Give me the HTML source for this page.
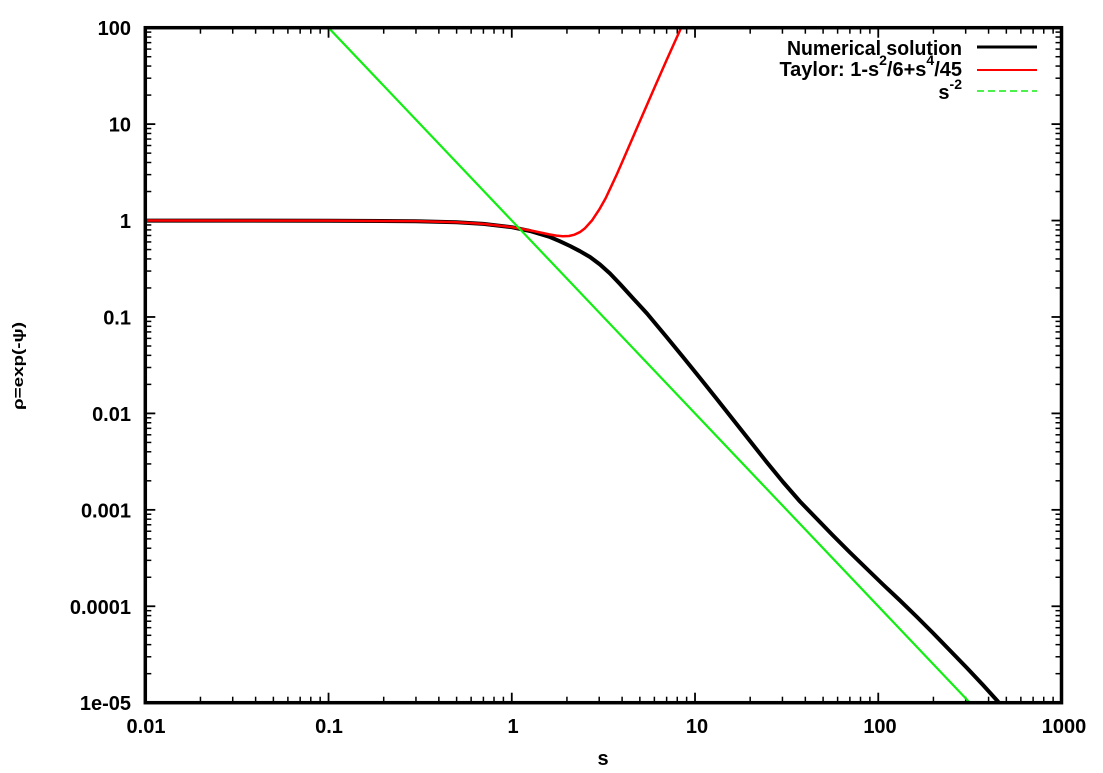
<!DOCTYPE html>
<html><head><meta charset="utf-8"><style>
html,body{margin:0;padding:0;background:#fff;}
svg{display:block;}
text{font-family:"Liberation Sans",Arial,sans-serif;font-weight:bold;fill:#000;}
</style></head><body>
<svg width="1103" height="773" viewBox="0 0 1103 773" xmlns="http://www.w3.org/2000/svg">
<defs>
<clipPath id="pc"><rect x="145.3" y="27.7" width="916.2" height="675"/></clipPath>
<g id="xm" stroke="#000" stroke-width="1.5">
<line x1="55.16" y1="702.7" x2="55.16" y2="696.7"/><line x1="87.42" y1="702.7" x2="87.42" y2="696.7"/><line x1="110.32" y1="702.7" x2="110.32" y2="696.7"/><line x1="128.08" y1="702.7" x2="128.08" y2="696.7"/><line x1="142.59" y1="702.7" x2="142.59" y2="696.7"/><line x1="154.86" y1="702.7" x2="154.86" y2="696.7"/><line x1="165.48" y1="702.7" x2="165.48" y2="696.7"/><line x1="174.86" y1="702.7" x2="174.86" y2="696.7"/>
<line x1="55.16" y1="27.7" x2="55.16" y2="33.7"/><line x1="87.42" y1="27.7" x2="87.42" y2="33.7"/><line x1="110.32" y1="27.7" x2="110.32" y2="33.7"/><line x1="128.08" y1="27.7" x2="128.08" y2="33.7"/><line x1="142.59" y1="27.7" x2="142.59" y2="33.7"/><line x1="154.86" y1="27.7" x2="154.86" y2="33.7"/><line x1="165.48" y1="27.7" x2="165.48" y2="33.7"/><line x1="174.86" y1="27.7" x2="174.86" y2="33.7"/>
</g>
<g id="ym" stroke="#000" stroke-width="1.5">
<line x1="145.3" y1="-29.03" x2="151.3" y2="-29.03"/><line x1="145.3" y1="-45.92" x2="151.3" y2="-45.92"/><line x1="145.3" y1="-58.06" x2="151.3" y2="-58.06"/><line x1="145.3" y1="-67.40" x2="151.3" y2="-67.40"/><line x1="145.3" y1="-75.04" x2="151.3" y2="-75.04"/><line x1="145.3" y1="-81.49" x2="151.3" y2="-81.49"/><line x1="145.3" y1="-87.09" x2="151.3" y2="-87.09"/><line x1="145.3" y1="-92.02" x2="151.3" y2="-92.02"/>
<line x1="1061.5" y1="-29.03" x2="1055.5" y2="-29.03"/><line x1="1061.5" y1="-45.92" x2="1055.5" y2="-45.92"/><line x1="1061.5" y1="-58.06" x2="1055.5" y2="-58.06"/><line x1="1061.5" y1="-67.40" x2="1055.5" y2="-67.40"/><line x1="1061.5" y1="-75.04" x2="1055.5" y2="-75.04"/><line x1="1061.5" y1="-81.49" x2="1055.5" y2="-81.49"/><line x1="1061.5" y1="-87.09" x2="1055.5" y2="-87.09"/><line x1="1061.5" y1="-92.02" x2="1055.5" y2="-92.02"/>
</g>
</defs>
<rect x="0" y="0" width="1103" height="773" fill="#fff"/>

<!-- minor ticks -->
<use href="#xm" transform="translate(145.3,0)"/>
<use href="#xm" transform="translate(328.54,0)"/>
<use href="#xm" transform="translate(511.78,0)"/>
<use href="#xm" transform="translate(695.02,0)"/>
<use href="#xm" transform="translate(878.26,0)"/>
<use href="#ym" transform="translate(0,702.7)"/>
<use href="#ym" transform="translate(0,606.27)"/>
<use href="#ym" transform="translate(0,509.84)"/>
<use href="#ym" transform="translate(0,413.41)"/>
<use href="#ym" transform="translate(0,316.98)"/>
<use href="#ym" transform="translate(0,220.55)"/>
<use href="#ym" transform="translate(0,124.12)"/>

<!-- major ticks -->
<g stroke="#000" stroke-width="1.8">
<line x1="328.54" y1="702.7" x2="328.54" y2="692.7"/><line x1="511.78" y1="702.7" x2="511.78" y2="692.7"/><line x1="695.02" y1="702.7" x2="695.02" y2="692.7"/><line x1="878.26" y1="702.7" x2="878.26" y2="692.7"/>
<line x1="328.54" y1="27.7" x2="328.54" y2="37.7"/><line x1="511.78" y1="27.7" x2="511.78" y2="37.7"/><line x1="695.02" y1="27.7" x2="695.02" y2="37.7"/><line x1="878.26" y1="27.7" x2="878.26" y2="37.7"/>
<line x1="145.3" y1="606.27" x2="155.3" y2="606.27"/><line x1="145.3" y1="509.84" x2="155.3" y2="509.84"/><line x1="145.3" y1="413.41" x2="155.3" y2="413.41"/><line x1="145.3" y1="316.98" x2="155.3" y2="316.98"/><line x1="145.3" y1="220.55" x2="155.3" y2="220.55"/><line x1="145.3" y1="124.12" x2="155.3" y2="124.12"/>
<line x1="1061.5" y1="606.27" x2="1051.5" y2="606.27"/><line x1="1061.5" y1="509.84" x2="1051.5" y2="509.84"/><line x1="1061.5" y1="413.41" x2="1051.5" y2="413.41"/><line x1="1061.5" y1="316.98" x2="1051.5" y2="316.98"/><line x1="1061.5" y1="220.55" x2="1051.5" y2="220.55"/><line x1="1061.5" y1="124.12" x2="1051.5" y2="124.12"/>
</g>

<!-- curves -->
<g clip-path="url(#pc)" fill="none" stroke-linejoin="round" stroke-linecap="round">
<polyline stroke="#000" stroke-width="4" points="145.3,220.6 328.5,220.7 415.9,221.2 456.6,222.3 483.4,223.9 511.8,227.2 530,231 550,237 560,241.3 570,246 580,251.2 590,257 600,264.5 610,273.5 620,284 630,295 647,313.5 667,337.5 683,357 700,378 716,398 733,419.5 750,441 767,462.5 783,482 800,501.5 817,519 833,535.5 850,552.5 867,569 883,584.5 900,600.5 917,617 933,633 950,650.5 967,668 983,685 997.5,701 1000,704"/>
<g transform="matrix(183.24 0 0 -96.43 511.78 220.56)">
<polyline vector-effect="non-scaling-stroke" stroke="#ff0000" stroke-width="2.5" points="-2,0 -1,-0.000725 -0.5229,-0.00649 -0.30103,-0.01785 -0.1549,-0.03448 0,-0.06775 0.11394,-0.1069 0.20412,-0.1433 0.24304,-0.15614 0.27875,-0.16245 0.31175,-0.15994 0.34242,-0.14635 0.37107,-0.12063 0.39794,-0.08282 0.43933,0.00454 0.47712,0.11394 0.51188,0.23 0.54407,0.36042 0.57403,0.483 0.60206,0.60446 0.65321,0.8285 0.69897,1.03031 0.77815,1.37658 0.8451,1.66454 0.90309,1.9104 0.92942,2.0211"/>
<polyline vector-effect="non-scaling-stroke" stroke="#11ee11" stroke-width="2.2" points="-1,2 2.5,-5"/>
</g>
</g>

<!-- frame -->
<rect x="145.3" y="27.7" width="916.2" height="675" fill="none" stroke="#000" stroke-width="3.5"/>

<!-- y tick labels -->
<g font-size="20" text-anchor="end">
<text x="131" y="35">100</text>
<text x="131" y="131.5">10</text>
<text x="131" y="228">1</text>
<text x="131" y="324.5">0.1</text>
<text x="131" y="421">0.01</text>
<text x="131" y="517.5">0.001</text>
<text x="131" y="614">0.0001</text>
<text x="131" y="710">1e-05</text>
</g>
<!-- x tick labels -->
<g font-size="20" text-anchor="middle">
<text x="146" y="733">0.01</text>
<text x="329" y="733">0.1</text>
<text x="513" y="733">1</text>
<text x="697" y="733">10</text>
<text x="880" y="733">100</text>
<text x="1064" y="733">1000</text>
</g>
<!-- axis titles -->
<text x="603" y="765" font-size="20" text-anchor="middle">s</text>
<text transform="translate(23,366) rotate(-90)" font-size="15" text-anchor="middle" textLength="88" lengthAdjust="spacingAndGlyphs">ρ=exp(-ψ)</text>

<!-- legend -->
<g font-size="20" text-anchor="end">
<text x="962" y="55" textLength="175" lengthAdjust="spacingAndGlyphs">Numerical solution</text>
<text x="962" y="76">Taylor: 1-s<tspan font-size="14" dy="-11">2</tspan><tspan dy="11">/6+s</tspan><tspan font-size="14" dy="-11">4</tspan><tspan dy="11">/45</tspan></text>
<text x="962" y="99">s<tspan font-size="14" dy="-10">-2</tspan></text>
</g>
<line x1="977" y1="47" x2="1037" y2="47" stroke="#000" stroke-width="3"/>
<line x1="977" y1="70" x2="1037" y2="70" stroke="#ff0000" stroke-width="2"/>
<line x1="977" y1="91" x2="1037" y2="91" stroke="#11ee11" stroke-width="1.5" stroke-dasharray="7,4"/>
</svg>
</body></html>
